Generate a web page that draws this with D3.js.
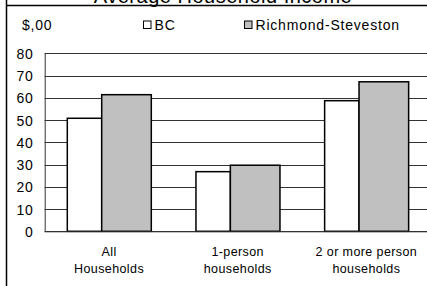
<!DOCTYPE html>
<html lang="en">
<head>
    <meta charset="UTF-8">
    <title>Average Household Income</title>
    <script src="https://cdn.jsdelivr.net/npm/d3@7"></script>
    <style>
        body {
            margin: 0;
            padding: 0;
            background: #fff;
        }
        svg text {
            font-family: "Liberation Sans", Arial, sans-serif;
            fill: #000;
        }
        .grid line {
            stroke: #333;
            stroke-width: 1;
        }
        rect.bar {
            stroke: #000;
            stroke-width: 1.5;
        }
    </style>
</head>
<body>
<svg width="427" height="286"></svg>
<script>
    // data
    var categories = [['All', 'Households'], ['1-person', 'households'], ['2 or more person', 'households']];
    var series = ['BC', 'Richmond-Steveston'];
    var bcValues = [50.8, 26.8, 58.7];
    var richmondValues = [61.4, 29.7, 67.2];
    var yTicks = [0, 10, 20, 30, 40, 50, 60, 70, 80];
    var colors = ['#ffffff', '#c0c0c0'];

    var svg = d3.select('svg');

    // frame + title
    svg.append('line').attr('x1', 6).attr('x2', 427).attr('y1', 5.5).attr('y2', 5.5)
        .attr('stroke', '#000').attr('stroke-width', 1.5);
    svg.append('line').attr('x1', 6.5).attr('x2', 6.5).attr('y1', 0).attr('y2', 286)
        .attr('stroke', '#000').attr('stroke-width', 1.5);
    svg.append('text').attr('x', 223).attr('y', 3).attr('text-anchor', 'middle')
        .style('font-size', '20px').style('letter-spacing', '0.5px').text('Average Household Income');

    var pLeft = 44.7, pTop = 53.3, pBottom = 231.3, pRight = 430.7;

    var x = d3.scaleBand().domain(d3.range(categories.length)).range([pLeft, pRight]);
    var y = d3.scaleLinear().domain([0, 80]).range([pBottom, pTop]);

    // gridlines
    svg.append('g').attr('class', 'grid')
        .selectAll('line').data(yTicks).enter().append('line')
        .attr('x1', pLeft).attr('x2', pRight)
        .attr('y1', function(d) { return Math.round(y(d)) + 0.5; })
        .attr('y2', function(d) { return Math.round(y(d)) + 0.5; });
    svg.append('line').attr('x1', pLeft + 0.5).attr('x2', pLeft + 0.5).attr('y1', pTop).attr('y2', pBottom)
        .attr('stroke', '#333');

    // y axis labels
    var yAxis = d3.axisLeft(y).tickValues(yTicks).tickSize(0).tickPadding(11);
    var ya = svg.append('g').attr('transform', 'translate(' + pLeft + ',0)').call(yAxis);
    ya.select('.domain').remove();
    ya.attr('font-family', null).attr('font-size', null);
    ya.selectAll('text').style('font-size', '14px').style('letter-spacing', '0.8px').attr('dy', '0.36em');

    // bars: BC narrower, Richmond wider (as in the original)
    var offsets = [[22.6, 34.4], [57, 49.6]];
    var groups = [bcValues, richmondValues];
    groups.forEach(function(vals, s) {
        svg.append('g').selectAll('rect').data(vals).enter().append('rect')
            .attr('class', 'bar')
            .attr('x', function(d, i) { return x(i) + offsets[s][0]; })
            .attr('width', offsets[s][1])
            .attr('y', function(d) { return y(d); })
            .attr('height', function(d) { return pBottom - y(d); })
            .attr('fill', colors[s]);
    });

    // baseline
    svg.append('line').attr('x1', pLeft).attr('x2', pRight).attr('y1', pBottom + 0.5).attr('y2', pBottom + 0.5)
        .attr('stroke', '#333');

    // category labels
    var cat = svg.append('g').selectAll('text').data(categories).enter().append('text')
        .attr('text-anchor', 'middle')
        .attr('x', function(d, i) { return x(i) + x.bandwidth() / 2; })
        .attr('y', 256)
        .style('font-size', '12.5px')
        .style('letter-spacing', '0.4px');
    cat.append('tspan').attr('x', function(d, i) { return x(i) + x.bandwidth() / 2; })
        .text(function(d) { return d[0]; });
    cat.append('tspan').attr('x', function(d, i) { return x(i) + x.bandwidth() / 2; })
        .attr('dy', 17).text(function(d) { return d[1]; });

    // units + legend
    svg.append('text').attr('x', 22).attr('y', 30).style('font-size', '14px')
        .style('letter-spacing', '0.8px').text('$,00');
    var legendX = [143.5, 244.5];
    series.forEach(function(name, i) {
        svg.append('rect').attr('x', legendX[i]).attr('y', 21).attr('width', 7.5).attr('height', 7.5)
            .attr('fill', colors[i]).attr('stroke', '#000').attr('stroke-width', 1);
        svg.append('text').attr('x', legendX[i] + 11).attr('y', 30).style('font-size', '14px')
            .style('letter-spacing', '0.8px').text(name);
    });
</script>
</body>
</html>
